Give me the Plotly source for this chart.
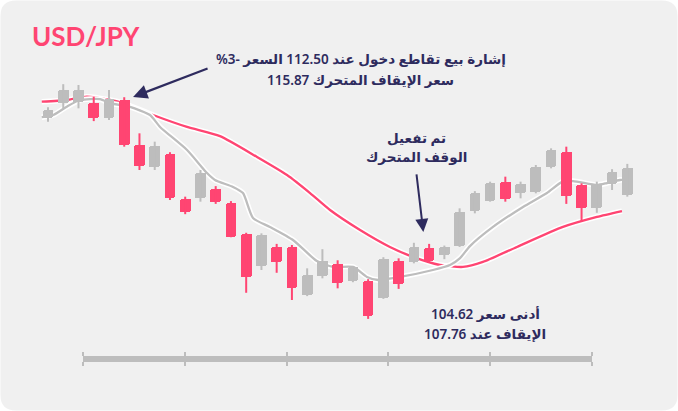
import plotly.graph_objects as go

# ---------------- data ----------------
day = list(range(39))
open_ = [111.84, 112.38, 112.44, 112.38, 111.84, 112.50, 110.88, 110.10, 110.56, 108.93,
         108.98, 109.30, 108.80, 107.68, 106.53, 107.22, 107.22, 105.48, 106.17, 106.59,
         106.00, 105.98, 105.36, 106.71, 106.68, 107.16, 106.92, 107.24, 108.50, 108.86,
         109.54, 109.14, 109.18, 110.10, 110.64, 109.44, 108.60, 109.47, 109.08]
close = [112.14, 112.86, 112.86, 111.84, 112.54, 110.88, 110.13, 110.85, 108.96, 108.48,
         109.88, 108.84, 107.58, 106.12, 107.64, 106.68, 105.72, 106.20, 106.70, 105.93,
         106.50, 104.73, 106.77, 105.87, 107.22, 106.71, 107.20, 108.48, 109.14, 109.50,
         108.94, 109.47, 110.08, 110.70, 109.04, 108.60, 109.47, 109.92, 110.04]
high = [112.24, 113.07, 113.04, 112.62, 112.86, 112.60, 111.30, 111.00, 110.62, 109.02,
        109.98, 109.40, 108.86, 107.72, 107.70, 107.32, 107.28, 106.44, 107.13, 106.73,
        106.52, 106.05, 106.84, 106.80, 107.36, 107.32, 107.26, 108.60, 109.22, 109.56,
        109.74, 109.56, 110.16, 110.76, 110.82, 109.50, 109.56, 110.01, 110.20]
low = [111.72, 112.20, 112.20, 111.74, 111.78, 110.82, 109.98, 109.98, 108.90, 108.39,
       108.84, 108.76, 107.56, 105.56, 106.38, 106.28, 105.30, 105.44, 106.08, 105.72,
       105.94, 104.62, 105.34, 105.70, 106.62, 106.64, 106.77, 107.21, 108.42, 108.84,
       108.84, 108.96, 109.14, 110.04, 108.76, 108.12, 108.44, 109.26, 109.02]

fast_x = [-0.41, 0.35, 1.23, 2.10, 3.41, 4.07, 5.38, 6.69, 7.35, 9.12, 10.43, 10.95, 12.14,
          12.79, 13.45, 14.56, 16.07, 17.64, 18.69, 20.01, 20.92, 21.65, 23.09, 25.25, 26.37,
          27.03, 27.68, 29.19, 31.16, 32.73, 33.72, 34.44, 36.01, 36.67, 37.52, 38.31]
fast_y = [111.88, 111.96, 112.26, 112.50, 112.53, 112.39, 112.25, 111.96, 111.53, 110.70,
          109.87, 109.62, 109.37, 109.15, 108.25, 107.93, 107.46, 106.70, 106.49, 106.49,
          106.13, 106.02, 106.13, 106.38, 106.56, 106.81, 107.24, 107.93, 108.65, 109.15,
          109.55, 109.58, 109.44, 109.51, 109.62, 109.66]
slow_x = [-0.41, 1.23, 2.54, 4.07, 4.92, 6.89, 9.12, 11.28, 13.71, 15.68, 17.19, 18.50,
          20.47, 22.43, 23.94, 25.71, 27.22, 28.53, 30.76, 33.78, 36.01, 37.65]
slow_y = [112.44, 112.50, 112.62, 112.50, 112.39, 111.96, 111.53, 111.20, 110.45, 109.80,
          109.15, 108.54, 107.82, 107.21, 106.85, 106.56, 106.49, 106.67, 107.21, 107.93,
          108.29, 108.50]

axis_ticks = [0, 1, 2, 3, 4, 5]

title_text = "USD/JPY"
note_entry = ["إشارة بيع تقاطع دخول عند 112.50 السعر \u2066%3-\u2069\u200f",
              "سعر الإيقاف المتحرك 115.87"]
note_stop = ["تم تفعيل", "الوقف المتحرك"]
note_low = ["أدنى سعر 104.62", "الإيقاف عند 107.76"]

# ---------------- styling ----------------
W, H = 678, 411
PINK = "#ff4572"
GRAY = "#bdbdbd"
NAVY = "#2e2b5e"
CARD = "#f0f0f0"
XR = [-3.149, 41.326]
YR = [101.304, 116.1]
FONT = "Noto Sans, DejaVu Sans, sans-serif"

def px(x):
    return x / W

def py(y):
    return 1 - y / H

fig = go.Figure()

# moving averages with white halo (base subplot, below candles)
for xs, ys, col in [(slow_x, slow_y, PINK), (fast_x, fast_y, GRAY)]:
    fig.add_trace(go.Scatter(x=xs, y=ys, mode="lines", line=dict(color="white", width=5.5, shape="spline", smoothing=0.6),
                             hoverinfo="skip", showlegend=False))
    fig.add_trace(go.Scatter(x=xs, y=ys, mode="lines", line=dict(color=col, width=2.3, shape="spline", smoothing=0.6),
                             showlegend=False))

# candles on an overlaying subplot (drawn above the lines)
up = [i for i in day if close[i] >= open_[i]]
dn = [i for i in day if close[i] < open_[i]]
for idx, col in [(up, GRAY), (dn, PINK)]:
    wx, wy = [], []
    for i in idx:
        wx += [day[i], day[i], None]
        wy += [low[i], high[i], None]
    fig.add_trace(go.Bar(x=[day[i] for i in idx],
                         y=[abs(close[i] - open_[i]) for i in idx],
                         base=[min(open_[i], close[i]) for i in idx],
                         width=0.70, marker=dict(color=col, cornerradius=2, line=dict(width=0)),
                         xaxis="x3", yaxis="y3", showlegend=False))
    fig.add_trace(go.Scatter(x=wx, y=wy, mode="lines", line=dict(color=col, width=2),
                             xaxis="x3", yaxis="y3", hoverinfo="skip", showlegend=False))

# decorative time axis
fig.add_trace(go.Scatter(x=[None], y=[None], xaxis="x2", yaxis="y2", showlegend=False, hoverinfo="skip"))

annotations = [
    dict(text=f"<b>{title_text}</b>", x=px(30), y=py(35.5), xref="paper", yref="paper",
         xanchor="left", yanchor="middle", showarrow=False,
         font=dict(family="Lato, Open Sans, sans-serif", size=26, color=PINK)),
]
for lines, cx, ys in [(note_entry, 360.5, [59, 80]), (note_stop, 416, [137.5, 157.5]),
                      (note_low, 485, [313.5, 334])]:
    for t, yy in zip(lines, ys):
        annotations.append(dict(text=t, x=px(cx), y=py(yy), xref="paper", yref="paper",
                                xanchor="center", yanchor="middle", showarrow=False,
                                font=dict(family=FONT, size=13.5, color=NAVY, weight=600)))
# arrows
annotations.append(dict(text="", x=5.58, y=112.61, xref="x", yref="y", ax=76, ay=-29,
                        showarrow=True, arrowhead=2, arrowsize=1.3, arrowwidth=2.2, arrowcolor=NAVY, standoff=0))
annotations.append(dict(text="", x=24.62, y=107.75, xref="x", yref="y", ax=-7, ay=-59,
                        showarrow=True, arrowhead=2, arrowsize=1.3, arrowwidth=2.0, arrowcolor=NAVY, standoff=0))

r = 16
path = (f"M {px(r)},{py(0.5)} L {px(W - r)},{py(0.5)} Q {px(W - 0.5)},{py(0.5)} {px(W - 0.5)},{py(r)} "
        f"L {px(W - 0.5)},{py(H - r)} Q {px(W - 0.5)},{py(H - 0.5)} {px(W - r)},{py(H - 0.5)} "
        f"L {px(r)},{py(H - 0.5)} Q {px(0.5)},{py(H - 0.5)} {px(0.5)},{py(H - r)} "
        f"L {px(0.5)},{py(r)} Q {px(0.5)},{py(0.5)} {px(r)},{py(0.5)} Z")

fig.update_layout(
    width=W, height=H, margin=dict(l=0, r=0, t=0, b=0),
    paper_bgcolor="white", plot_bgcolor="rgba(0,0,0,0)",
    barmode="overlay", bargap=0,
    showlegend=False,
    xaxis=dict(range=XR, visible=False, domain=[0, 1]),
    yaxis=dict(range=YR, visible=False, domain=[0, 1]),
    xaxis3=dict(range=XR, visible=False, overlaying="x", anchor="y3"),
    yaxis3=dict(range=YR, visible=False, overlaying="y", anchor="x3"),
    xaxis2=dict(domain=[px(83.3), px(591.7)], range=[axis_ticks[0], axis_ticks[-1]], anchor="y2",
                tickvals=axis_ticks, showticklabels=False, showgrid=False, zeroline=False,
                showline=True, linecolor=GRAY, linewidth=2.5, ticks="outside", ticklen=4,
                tickwidth=2, tickcolor=GRAY, mirror="ticks"),
    yaxis2=dict(domain=[py(359.3), py(359.3) + 0.0006], range=[0, 1], anchor="x2", visible=False),
    shapes=[dict(type="path", path=path, xref="paper", yref="paper", fillcolor=CARD,
                 line=dict(width=0), layer="below")],
    annotations=annotations,
)

fig.write_html("out.html", config={"displayModeBar": False},
               post_script="document.body.style.margin='0';document.body.style.overflow='hidden';"
                           "document.documentElement.style.overflow='hidden';")
